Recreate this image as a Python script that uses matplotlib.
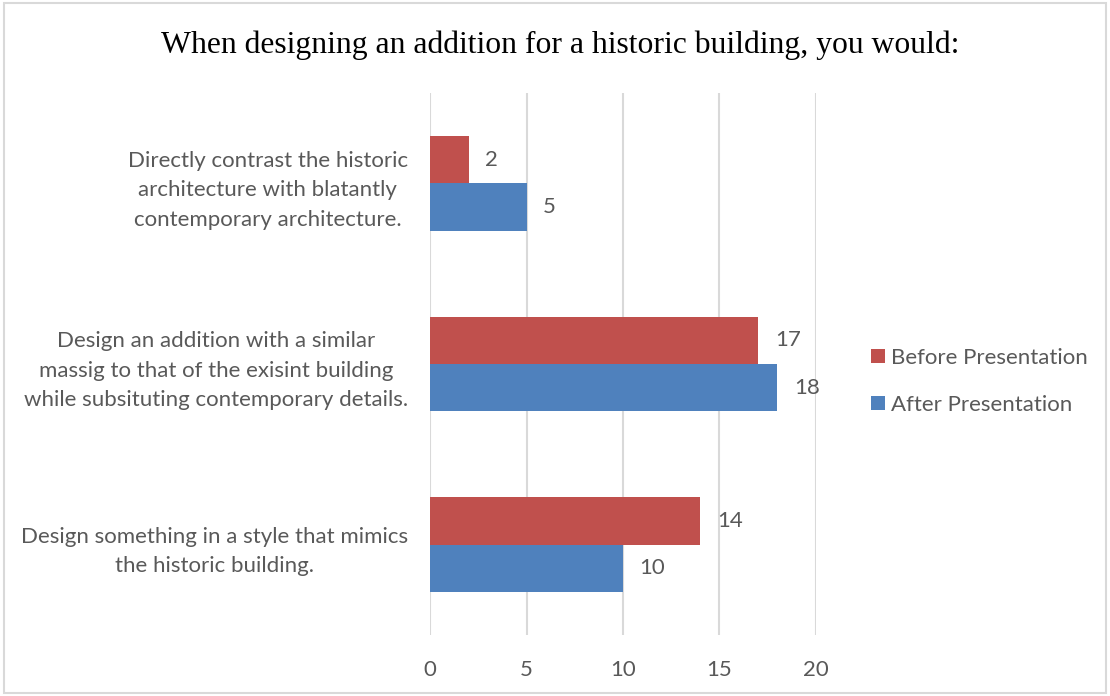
import matplotlib
matplotlib.use("Agg")
import matplotlib.pyplot as plt
from matplotlib.patches import Rectangle
import numpy as np

categories = [
    "Directly contrast the historic\narchitecture with blatantly\ncontemporary architecture.",
    "Design an addition with a similar\nmassig to that of the exisint building\nwhile subsituting contemporary details.",
    "Design something in a style that mimics\nthe historic building.",
]
before = [2, 17, 14]
after = [5, 18, 10]
series_names = ["Before Presentation", "After Presentation"]
xticks = [0, 5, 10, 15, 20]

RED = "#C0504D"
BLUE = "#4F81BD"
TXT = "#595959"
GRID = "#D9D9D9"

plt.rcParams["font.family"] = ["Lato", "DejaVu Sans"]

fig = plt.figure(figsize=(11.1, 6.96), dpi=100)
ax = fig.add_axes([0.3874, 0.0876, 0.3477, 0.7787])

y = np.arange(len(categories))
h = 0.262
b1 = ax.barh(y - h / 2, before, height=h, color=RED, label=series_names[0], zorder=2)
b2 = ax.barh(y + h / 2, after, height=h, color=BLUE, label=series_names[1], zorder=2)

for bars in (b1, b2):
    for rect in bars:
        w = rect.get_width()
        ax.annotate(f"{w:g}", (w, rect.get_y() + rect.get_height() / 2),
                    xytext=(12, 0), textcoords="offset points",
                    va="center", ha="left", fontsize=16, color=TXT)

ax.set_xlim(0, 20)
ax.set_ylim(len(categories) - 0.5, -0.5)
ax.set_xticks(xticks)
ax.set_xticklabels([str(t) for t in xticks])
ax.set_yticks(y)
ax.set_yticklabels(categories, multialignment="center", linespacing=1.6)
ax.tick_params(axis="both", length=0, labelsize=16, colors=TXT)
ax.tick_params(axis="x", pad=18)
ax.tick_params(axis="y", pad=16)
ax.xaxis.grid(True, color=GRID, linewidth=1.5, zorder=0)
for s in ax.spines.values():
    s.set_visible(False)

fig.text(0.5045, 0.935, "When designing an addition for a historic building, you would:",
         ha="center", va="center", fontsize=22.8, family="Liberation Serif", color="black")

fig.legend(handles=[b1, b2], loc="center left", bbox_to_anchor=(0.767, 0.452),
           frameon=False, fontsize=16, handlelength=0.6, handleheight=0.6,
           handletextpad=0.3, labelspacing=1.2, labelcolor=TXT)

fig.patches.append(Rectangle((0.004, 0.004), 0.992, 0.991, transform=fig.transFigure,
                             fill=False, edgecolor=GRID, linewidth=1.5))

fig.savefig("out.png", dpi=100)
